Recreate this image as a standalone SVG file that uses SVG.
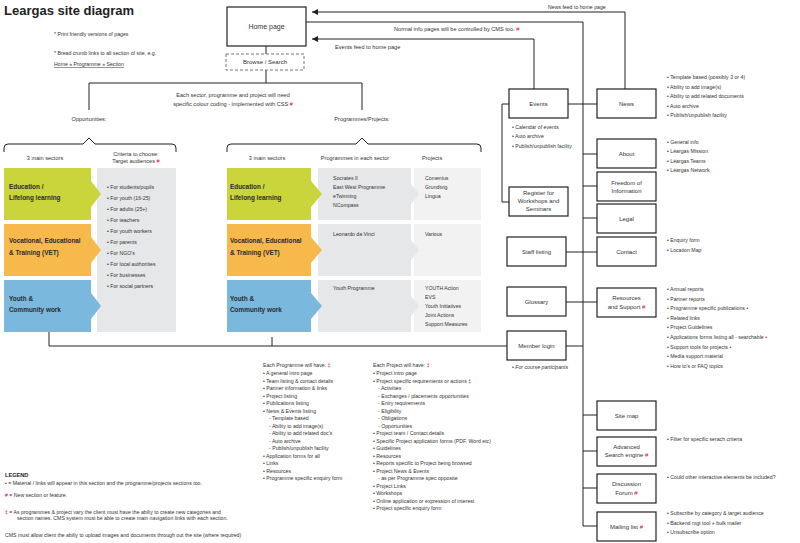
<svg xmlns="http://www.w3.org/2000/svg" width="800" height="543" viewBox="0 0 800 543">
<defs>
<style>
text{font-family:"Liberation Sans",Arial,sans-serif;fill:#333}
.f5{font-size:5.2px}
.f55{font-size:5.6px}
.f6{font-size:6px}
.f7{font-size:7px}
.sb{font-size:6.4px;font-weight:bold;fill:#2a2a2a}
.c{text-anchor:middle}
.r{fill:#e2001a}
.box{fill:#fff;stroke:#222;stroke-width:1.2}
.ln{fill:none;stroke:#222;stroke-width:1}
.it{font-style:italic}
</style>
<marker id="ah" viewBox="0 0 6 6" refX="6" refY="3" markerWidth="6" markerHeight="6" markerUnits="userSpaceOnUse" orient="auto">
<path d="M0,0 L6,3 L0,6 Z" fill="#222"/>
</marker>
</defs>
<rect width="800" height="543" fill="#fff"/>

<text x="4" y="15" style="font-size:13px;font-weight:bold;fill:#222">Leargas site diagram</text>
<text x="54" y="36" class="f5">* Print friendly versions of pages</text>
<text x="54" y="55" class="f5">* Bread crumb links to all section of site, e.g.</text>
<text x="54" y="66" class="f5" text-decoration="underline">Home » Programme  » Section</text>

<g id="connectors">
<path class="ln" d="M266,46 V54"/>
<path class="ln" d="M266,70 V83 M89,110 V83 H362 V110"/>
<path class="ln" d="M4,152 V148 Q4,144 8,144 H83 L89,138 L95,144 H172 Q176,144 176,148 V152"/>
<path class="ln" d="M227,152 V148 Q227,144 231,144 H356 L362,138 L368,144 H477 Q481,144 481,148 V152"/>
<path class="ln" d="M625,89 V12 H312" marker-end="url(#ah)"/>
<path class="ln" d="M534,89 V39 H312" marker-end="url(#ah)"/>
<path class="ln" d="M306,22 H583 V526"/>
<path class="ln" d="M568,104 H597"/>
<path class="ln" d="M509,104 H502 V202 H509"/>
<path class="ln" d="M583,154 H597 M583,186 H597 M583,218 H597"/>
<path class="ln" d="M566,252 H597 M566,302 H597"/>
<path class="ln" d="M583,415 H597 M583,451 H597 M583,488 H597 M583,526 H597"/>
<path class="ln" d="M49,332 V346 H507 M272,337 V346 M566,346 H583"/>
</g>

<g id="home"><rect class="box" x="227" y="7" width="79" height="39"/><text x="266.5" y="29" class="f7 c">Home page</text></g>
<g id="browse"><rect x="226" y="54" width="78" height="16" fill="#fff" stroke="#777" stroke-width="1" stroke-dasharray="3,2"/><text x="265" y="64" class="f6 c">Browse  / Search</text></g>

<text x="548" y="9" class="f5">News feed to home page</text>
<text x="394" y="31" class="f55">Normal info pages will be controlled by CMS too. <tspan class="r">#</tspan></text>
<text x="335" y="49" class="f55">Events feed to home page</text>

<text x="233" y="97" class="f55 c">Each sector, programme and project will need</text>
<text x="233" y="106" class="f55 c">specific colour coding - implemented with CSS <tspan class="r">#</tspan></text>
<text x="89" y="121" class="f55 c">Opportunities:</text>
<text x="362" y="121" class="f55 c">Programmes/Projects:</text>

<g id="opportunities">
<text x="45" y="160" class="f55 c">3 main sectors</text>
<text x="136" y="156" class="f55 c">Criteria to choose:</text>
<text x="136" y="163" class="f55 c">Target audiences <tspan class="r">#</tspan></text>
<rect x="97" y="168" width="79" height="164" fill="#e6e7e8"/>
<path d="M4,168 H91 V181 L101,194 L91,207 V220 H4 Z" fill="#c9d53a"/>
<path d="M4,224 H91 V237 L101,250 L91,263 V276 H4 Z" fill="#f8b94c"/>
<path d="M4,280 H91 V293 L101,306 L91,319 V332 H4 Z" fill="#7bb8de"/>
<text x="9" y="189" class="sb">Education /</text>
<text x="9" y="200" class="sb">Lifelong learning</text>
<text x="9" y="243" class="sb">Vocational, Educational</text>
<text x="9" y="255" class="sb">&amp; Training (VET)</text>
<text x="9" y="301" class="sb">Youth &amp;</text>
<text x="9" y="312" class="sb">Community work</text>
<text x="107" y="189" class="f5">• For students/pupils</text>
<text x="107" y="200" class="f5">• For youth (16-25)</text>
<text x="107" y="211" class="f5">• For adults (25+)</text>
<text x="107" y="222" class="f5">• For teachers</text>
<text x="107" y="233" class="f5">• For youth workers</text>
<text x="107" y="244" class="f5">• For parents</text>
<text x="107" y="255" class="f5">• For NGO's</text>
<text x="107" y="266" class="f5">• For local authorities</text>
<text x="107" y="277" class="f5">• For businesses</text>
<text x="107" y="288" class="f5">• For social partners</text>
</g>

<g id="programmes">
<text x="267" y="160" class="f55 c">3 main sectors</text>
<text x="355" y="160" class="f55 c">Programmes in each sector</text>
<text x="422" y="160" class="f55">Projects</text>
<rect x="414" y="168" width="67" height="52" fill="#f2f2f2"/>
<rect x="414" y="224" width="67" height="52" fill="#f2f2f2"/>
<rect x="414" y="280" width="67" height="52" fill="#f2f2f2"/>
<path d="M318,168 H411 V184 L419,194 L411,204 V220 H318 Z" fill="#e6e7e8"/>
<path d="M318,224 H411 V240 L419,250 L411,260 V276 H318 Z" fill="#e6e7e8"/>
<path d="M318,280 H411 V296 L419,306 L411,316 V332 H318 Z" fill="#e6e7e8"/>
<path d="M227,168 H311 V181 L322,194 L311,207 V220 H227 Z" fill="#c9d53a"/>
<path d="M227,224 H311 V237 L322,250 L311,263 V276 H227 Z" fill="#f8b94c"/>
<path d="M227,280 H311 V293 L322,306 L311,319 V332 H227 Z" fill="#7bb8de"/>
<text x="230" y="189" class="sb">Education /</text>
<text x="230" y="200" class="sb">Lifelong learning</text>
<text x="230" y="243" class="sb">Vocational, Educational</text>
<text x="230" y="255" class="sb">&amp; Training (VET)</text>
<text x="230" y="301" class="sb">Youth &amp;</text>
<text x="230" y="312" class="sb">Community work</text>
<text x="333" y="180" class="f5">Socrates II</text>
<text x="333" y="189" class="f5">East West Programme</text>
<text x="333" y="198" class="f5">eTwinning</text>
<text x="333" y="207" class="f5">NCompass</text>
<text x="333" y="236" class="f5">Leonardo da Vinci</text>
<text x="333" y="290" class="f5">Youth Programme</text>
<text x="425" y="180" class="f5">Comenius</text>
<text x="425" y="189" class="f5">Grundtvig</text>
<text x="425" y="198" class="f5">Lingua</text>
<text x="425" y="236" class="f5">Various</text>
<text x="425" y="290" class="f5">YOUTH Action</text>
<text x="425" y="299" class="f5">EVS</text>
<text x="425" y="308" class="f5">Youth Initiatives</text>
<text x="425" y="317" class="f5">Joint Actions</text>
<text x="425" y="326" class="f5">Support Measures</text>
</g>

<g id="events"><rect class="box" x="509" y="89" width="59" height="29"/><text x="538.5" y="106" class="f6 c">Events</text>
<text x="512" y="129" class="f5">• Calendar of events</text>
<text x="512" y="138" class="f5">• Auto archive</text>
<text x="512" y="148" class="f5">• Publish/unpublish facility</text></g>
<g id="register"><rect class="box" x="509" y="187" width="59" height="29"/>
<text x="538.5" y="195" class="f6 c">Register for</text><text x="538.5" y="203" class="f6 c">Workshops and</text><text x="538.5" y="211" class="f6 c">Seminars</text></g>
<g id="staff"><rect class="box" x="507" y="237" width="59" height="29"/><text x="536.5" y="254" class="f6 c">Staff listing</text></g>
<g id="glossary"><rect class="box" x="507" y="287" width="59" height="29"/><text x="536.5" y="304" class="f6 c">Glossary</text></g>
<g id="member"><rect class="box" x="507" y="331" width="59" height="29"/><text x="536.5" y="348" class="f6 c">Member login</text>
<text x="512" y="369" class="f5 it">• For course participants</text></g>

<g id="news"><rect class="box" x="597" y="89" width="59" height="29"/><text x="626.5" y="106" class="f6 c">News</text>
<text x="667" y="79" class="f5">• Template based (possibly 3 or 4)</text>
<text x="667" y="89" class="f5">• Ability to add image(s)</text>
<text x="667" y="98" class="f5">• Ability to add related documents</text>
<text x="667" y="108" class="f5">• Auto archive</text>
<text x="667" y="117" class="f5">• Publish/unpublish facility</text></g>
<g id="about"><rect class="box" x="597" y="139" width="59" height="29"/><text x="626.5" y="156" class="f6 c">About</text>
<text x="667" y="144" class="f5">• General info</text>
<text x="667" y="153" class="f5">• Léargas Mission</text>
<text x="667" y="163" class="f5">• Léargas Teams</text>
<text x="667" y="172" class="f5">• Léargas Network</text></g>
<g id="foi"><rect class="box" x="597" y="172" width="59" height="29"/><text x="626.5" y="185" class="f6 c">Freedom of</text><text x="626.5" y="193" class="f6 c">Information</text></g>
<g id="legal"><rect class="box" x="597" y="204" width="59" height="29"/><text x="626.5" y="221" class="f6 c">Legal</text></g>
<g id="contact"><rect class="box" x="597" y="237" width="59" height="29"/><text x="626.5" y="254" class="f6 c">Contact</text>
<text x="667" y="242" class="f5">• Enquiry form</text>
<text x="667" y="252" class="f5">• Location Map</text></g>
<g id="resources"><rect class="box" x="597" y="288" width="59" height="29"/><text x="626.5" y="300" class="f6 c">Resources</text><text x="626.5" y="309" class="f6 c">and Support <tspan class="r">#</tspan></text>
<text x="667" y="291" class="f5">• Annual reports</text>
<text x="667" y="301" class="f5">• Partner reports</text>
<text x="667" y="310" class="f5">• Programme specific publications <tspan class="r">•</tspan></text>
<text x="667" y="320" class="f5">• Related links</text>
<text x="667" y="329" class="f5">• Project Guidelines</text>
<text x="667" y="339" class="f5">• Applications forms listing all - searchable <tspan class="r">•</tspan></text>
<text x="667" y="349" class="f5">• Support tools for projects <tspan class="r">•</tspan></text>
<text x="667" y="358" class="f5">• Media support material</text>
<text x="667" y="368" class="f5">• How to's or FAQ topics</text></g>
<g id="sitemap"><rect class="box" x="597" y="401" width="59" height="29"/><text x="626.5" y="418" class="f6 c">Site map</text></g>
<g id="advanced"><rect class="box" x="597" y="437" width="59" height="29"/><text x="626.5" y="449" class="f6 c">Advanced</text><text x="626.5" y="457" class="f6 c">Search engine <tspan class="r">#</tspan></text>
<text x="667" y="441" class="f5">• Filter for specific serach criteria</text></g>
<g id="discussion"><rect class="box" x="597" y="474" width="59" height="29"/><text x="626.5" y="486" class="f6 c">Discussion</text><text x="626.5" y="495" class="f6 c">Forum <tspan class="r">#</tspan></text>
<text x="667" y="479" class="f5">• Could other interactive elements  be included?</text></g>
<g id="mailing"><rect class="box" x="597" y="512" width="59" height="29"/><text x="626.5" y="529" class="f6 c">Mailing list <tspan class="r">#</tspan></text>
<text x="667" y="515" class="f5">• Subscribe by category &amp; target audience</text>
<text x="667" y="525" class="f5">• Backend mgt tool + bulk mailer</text>
<text x="667" y="534" class="f5">• Unsubscribe option</text></g>

<g id="programme-notes">
<text x="263" y="367" class="f5">Each Programme will have: <tspan class="r">‡</tspan></text>
<text x="263" y="375" class="f5">• A general intro page</text>
<text x="263" y="383" class="f5">• Team listing &amp; contact details</text>
<text x="263" y="390" class="f5">• Partner information &amp; links</text>
<text x="263" y="398" class="f5">• Project listing</text>
<text x="263" y="405" class="f5">• Publications listing</text>
<text x="263" y="413" class="f5">• News &amp; Events listing</text>
<text x="269" y="420" class="f5">- Template based</text>
<text x="269" y="428" class="f5">- Ability to add image(s)</text>
<text x="269" y="435" class="f5">- Ability to add related doc's</text>
<text x="269" y="443" class="f5">- Auto archive</text>
<text x="269" y="450" class="f5">- Publish/unpublish facility</text>
<text x="263" y="458" class="f5">• Application forms for all</text>
<text x="263" y="465" class="f5">• Links</text>
<text x="263" y="473" class="f5">• Resources</text>
<text x="263" y="480" class="f5">• Programme specific enquiry form</text>
</g>
<g id="project-notes">
<text x="373" y="367" class="f5">Each Project  will have: <tspan class="r">‡</tspan></text>
<text x="373" y="375" class="f5">• Project intro page</text>
<text x="373" y="383" class="f5">• Project specific requirements or actions <tspan class="r">‡</tspan></text>
<text x="378" y="390" class="f5">- Activities</text>
<text x="378" y="398" class="f5">- Exchanges / placements opportunities</text>
<text x="378" y="405" class="f5">- Entry requirements</text>
<text x="378" y="413" class="f5">- Eligibility</text>
<text x="378" y="420" class="f5">- Obligations</text>
<text x="378" y="428" class="f5">- Opportunities</text>
<text x="373" y="435" class="f5">• Project team / Contact details</text>
<text x="373" y="443" class="f5">• Specific Project application forms (PDF, Word etc)</text>
<text x="373" y="450" class="f5">• Guidelines</text>
<text x="373" y="458" class="f5">• Resources</text>
<text x="373" y="465" class="f5">• Reports specific to Project being browsed</text>
<text x="373" y="473" class="f5">• Project News &amp; Events</text>
<text x="378" y="480" class="f5">- as per Programme spec opposite</text>
<text x="373" y="488" class="f5">• Project Links</text>
<text x="373" y="495" class="f5">• Workshops</text>
<text x="373" y="503" class="f5">• Online application or expression of interest</text>
<text x="373" y="510" class="f5">• Project specific enquiry form</text>
</g>

<g id="legend">
<text x="5" y="477" style="font-size:5.6px;font-weight:bold;fill:#222">LEGEND</text>
<text x="5" y="485" class="f5"><tspan class="r">•</tspan> = Material / links will appear in this section and the programme/projects sections too.</text>
<text x="5" y="497" class="f5"><tspan class="r">#</tspan> = New section or feature.</text>
<text x="5" y="514" class="f5"><tspan class="r">‡</tspan> = As programmes &amp; project vary the client must have the abiliy to create new categories and</text>
<text x="17" y="520" class="f5">section names. CMS system must be able to create main navigation links with each section.</text>
<text x="5" y="537" class="f5">CMS must allow client the abiliy to upload images and documents through out the site (where required)</text>
</g>
</svg>
